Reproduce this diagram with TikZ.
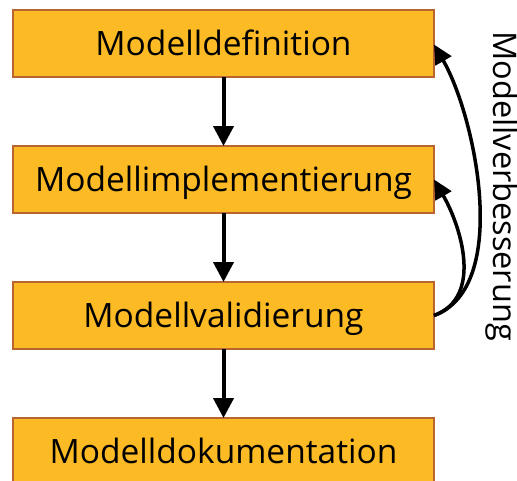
\documentclass[tikz,border=0pt]{standalone}
\usepackage{fontspec}
\setmainfont{Open Sans}
\usepackage{xcolor}
\definecolor{boxfill}{HTML}{FCBB24}
\definecolor{boxline}{HTML}{BA6530}
\usepackage{tikz}
\usetikzlibrary{arrows.meta}

\begin{document}
\begin{tikzpicture}[every node/.style={inner sep=1,outer sep=0},
    stepbox/.style={draw=boxline,line width=1.5pt,fill=boxfill,
      minimum width=421pt,minimum height=67pt,text height=24pt,text depth=0pt,
      font=\fontsize{33.5}{38}\selectfont},
    flow/.style={line width=4pt,-{Triangle[length=20pt,width=20pt]}},
    back/.style={line width=3.5pt,-{Triangle[length=19pt,width=18pt]}}]
    \useasboundingbox (0,0) rectangle (517pt,-480pt);

    \node(d)[stepbox] at (223.5pt,-43.5pt) {Modelldefinition};
    \node(i)[stepbox,anchor=north] at ([yshift=-69pt]d.south) {Modellimplementierung};
    \node(v)[stepbox,anchor=north] at ([yshift=-69pt]i.south) {Modellvalidierung};
    \node(k)[stepbox,anchor=north] at ([yshift=-69pt]v.south) {Modelldokumentation};

    \draw [flow] (d.south)--(i.north);
    \draw [flow] (i.south)--(v.north);
    \draw [flow] (v.south)--(k.north);

    %% back arrows from validation
    \draw [back] (v.east) to[out=20,in=-60,looseness=0.78] ([yshift=-1pt]d.east);
    \draw [back] (v.east) to[out=20,in=-60,looseness=1.0] (i.east);
    \node(mv)[rotate=-90,anchor=base,font=\fontsize{32.5}{38}\selectfont] at (493pt,-186pt) {Modellverbesserung};
\end{tikzpicture}
\end{document}
